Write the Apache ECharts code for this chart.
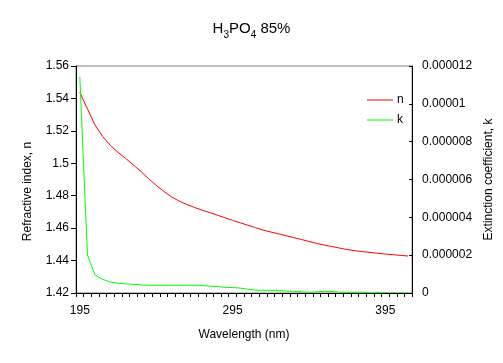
<!DOCTYPE html>
<html>
<head>
<meta charset="utf-8">
<script src="https://cdn.jsdelivr.net/npm/echarts@6/dist/echarts.min.js"></script>
<style>html,body{margin:0;padding:0;background:#fff;}#c{width:503px;height:363px;}</style>
</head>
<body>
<div id="c"></div>
<script>
var wavelengths = [195,200,205,210,215,220,225,230,235,240,245,250,255,260,265,270,275,280,285,290,295,300,305,310,315,320,325,330,335,340,345,350,355,360,365,370,375,380,385,390,395,400,405,410];
var nValues = [1.5438,1.5335,1.5235,1.5165,1.5110,1.5068,1.5030,1.4990,1.4950,1.4905,1.4864,1.4827,1.4793,1.4767,1.4746,1.4728,1.4711,1.4696,1.4680,1.4664,1.4648,1.4633,1.4618,1.4603,1.4588,1.4576,1.4565,1.4553,1.4542,1.4530,1.4518,1.4506,1.4496,1.4487,1.4477,1.4468,1.4461,1.4455,1.4450,1.4445,1.4440,1.4436,1.4432,1.4428];
var kValues = [11.43e-6,2.0e-6,0.95e-6,0.72e-6,0.58e-6,0.52e-6,0.48e-6,0.46e-6,0.43e-6,0.41e-6,0.41e-6,0.41e-6,0.41e-6,0.41e-6,0.41e-6,0.41e-6,0.40e-6,0.36e-6,0.34e-6,0.30e-6,0.29e-6,0.26e-6,0.20e-6,0.15e-6,0.14e-6,0.14e-6,0.13e-6,0.10e-6,0.09e-6,0.06e-6,0.04e-6,0.06e-6,0.09e-6,0.08e-6,0.04e-6,0.04e-6,0.04e-6,0.04e-6,0,0.04e-6,0,0,0,0];
var nTicks = {min:1.42, max:1.56, interval:0.02};
var kTicks = {min:0, max:0.000012, interval:0.000002};

var font = 'Liberation Sans, Arial, sans-serif';
var chart = echarts.init(document.getElementById('c'), null, {renderer:'canvas'});
chart.setOption({
  backgroundColor:'#fff',
  animation:false,
  title:{
    text:'H{sub|3}PO{sub|4} 85%',
    left:'center', top:16,
    textStyle:{fontFamily:font, fontSize:15, fontWeight:'normal', color:'#000',
      rich:{sub:{fontFamily:font, fontSize:10, color:'#000', verticalAlign:'bottom', padding:[0,0,-4,0]}}}
  },
  legend:{
    orient:'vertical', left:362, top:89, itemWidth:26, itemHeight:1, itemGap:8,
    icon:'rect',
    textStyle:{fontFamily:font, fontSize:12, color:'#000', padding:[0,0,0,-1]},
    data:[{name:'n', icon:'rect'},{name:'k', icon:'rect'}]
  },
  grid:{left:76, right:85, top:66, bottom:70, show:true, borderColor:'#808080', borderWidth:1, containLabel:false},
  xAxis:{
    type:'category', data:wavelengths, boundaryGap:true, z:5,
    name:'Wavelength (nm)', nameLocation:'middle', nameGap:36,
    nameTextStyle:{fontFamily:font, fontSize:12, color:'#000'},
    axisLine:{lineStyle:{color:'#000', width:1}},
    axisTick:{show:true, interval:0, length:4, lineStyle:{color:'#000'}},
    axisLabel:{interval:19, margin:12, fontFamily:font, fontSize:12, color:'#000'},
    splitLine:{show:false}
  },
  yAxis:[{
    type:'value', position:'left', min:nTicks.min, max:nTicks.max, interval:nTicks.interval,
    name:'Refractive index, n', nameLocation:'middle', nameGap:42, nameRotate:90,
    nameTextStyle:{fontFamily:font, fontSize:12, color:'#000', padding:[0,0,0,-24]},
    axisLine:{show:true, lineStyle:{color:'#000'}},
    axisTick:{show:true, length:5, lineStyle:{color:'#000'}},
    axisLabel:{margin:7, fontFamily:font, fontSize:12, color:'#000',
      formatter:function(v){return parseFloat(v.toFixed(2)).toString();}},
    splitLine:{show:false}
  },{
    type:'value', position:'right', min:kTicks.min, max:kTicks.max, interval:kTicks.interval,
    name:'Extinction coefficient, k', nameLocation:'middle', nameGap:62, nameRotate:90,
    nameTextStyle:{fontFamily:font, fontSize:12, color:'#000'},
    axisLine:{show:true, lineStyle:{color:'#000'}},
    axisTick:{show:true, inside:true, length:3, lineStyle:{color:'#000'}},
    axisLabel:{margin:10, fontFamily:font, fontSize:12, color:'#000',
      formatter:function(v){return parseFloat(v.toFixed(6)).toString();}},
    splitLine:{show:false}
  }],
  series:[{
    name:'n', type:'line', yAxisIndex:0, data:nValues, symbol:'none', z:2,
    lineStyle:{color:'#ff0000', width:1}, itemStyle:{color:'#ff0000'}
  },{
    name:'k', type:'line', yAxisIndex:1, data:kValues, symbol:'none', z:2,
    lineStyle:{color:'#00ff00', width:1}, itemStyle:{color:'#00ff00'}
  }]
});
</script>
</body>
</html>
